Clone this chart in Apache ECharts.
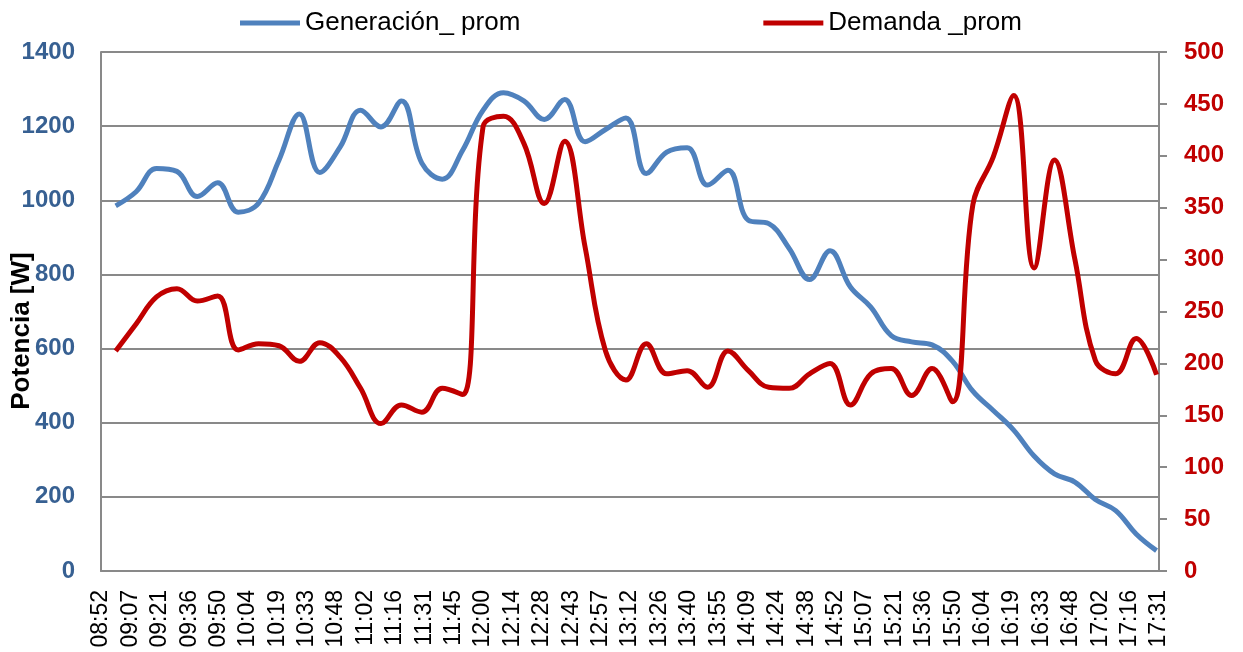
<!DOCTYPE html>
<html>
<head>
<meta charset="utf-8">
<script src="https://cdn.jsdelivr.net/npm/echarts@6/dist/echarts.min.js"></script>
<style>
  html, body { margin: 0; padding: 0; background: #fff; }
  #chart { width: 1243px; height: 652px; }
</style>
</head>
<body>
<div id="chart"></div>
<script>
// horas de medición (cada 10 min)
var horas = ['09:00','09:10','09:20','09:30','09:40','09:50','10:00','10:10','10:20','10:30',
  '10:40','10:50','11:00','11:10','11:20','11:30','11:40','11:50','12:00','12:10',
  '12:20','12:30','12:40','12:50','13:00','13:10','13:20','13:30','13:40','13:50',
  '14:00','14:10','14:20','14:30','14:40','14:50','15:00','15:10','15:20','15:30',
  '15:40','15:50','16:00','16:10','16:20','16:30','16:40','16:50','17:00','17:10',
  '17:20','17:30'];

// Generación_ prom [W] (eje izquierdo)
var generacion = [985, 1023, 1086, 1078, 1010, 1047, 968, 992, 1108, 1233,
  1075, 1144, 1243, 1198, 1268, 1100, 1057, 1135, 1243, 1290,
  1268, 1218, 1272, 1158, 1191, 1222, 1072, 1130, 1142, 1041,
  1081, 946, 937, 870, 786, 864, 766, 712, 635, 618,
  610, 566, 485, 433, 380, 310, 262, 240, 193, 163,
  100, 55];

// Demanda _prom [W] (eje derecho)
var demanda = [212, 238, 264, 272, 260, 265, 213, 219, 217, 202,
  220, 206, 176, 142, 160, 153, 176, 170, 428, 438,
  412, 354, 414, 312, 212, 184, 219, 190, 193, 177,
  212, 193, 177, 176, 190, 200, 160, 190, 195, 169,
  195, 163, 353, 399, 458, 292, 396, 300, 203, 190,
  224, 189];

// eje X en centésimas de día (0.01 día = 14.4 min), como Excel
var UNIDAD_MIN = 14.4;
function aUnidad(h) {
  var p = h.split(':');
  return (parseInt(p[0], 10) * 60 + parseInt(p[1], 10)) / UNIDAD_MIN;
}
function etiquetaHora(v) {
  var total = Math.floor(v * UNIDAD_MIN + 1e-6);
  var h = Math.floor(total / 60), m = total % 60;
  return (h < 10 ? '0' : '') + h + ':' + (m < 10 ? '0' : '') + m;
}

var genData = [], demData = [];
for (var i = 0; i < horas.length; i++) {
  genData.push([aUnidad(horas[i]), generacion[i]]);
  demData.push([aUnidad(horas[i]), demanda[i]]);
}

var fuente = "'Liberation Sans', Arial, sans-serif";
var myChart = echarts.init(document.getElementById('chart'));
var option = {
  backgroundColor: '#fff',
  animation: false,
  color: ['#4F81BD', '#C00000'],
  legend: {
    top: 5,
    left: 235,
    itemGap: 243,
    itemWidth: 60,
    itemHeight: 5,
    icon: 'rect',
    textStyle: { fontFamily: fuente, fontSize: 26, color: '#000' },
    data: ['Generación_ prom', 'Demanda _prom']
  },
  grid: { left: 101, right: 84, top: 52, bottom: 81 },
  graphic: [{
    type: 'text',
    x: 22,
    y: 331,
    rotation: Math.PI / 2,
    style: {
      text: 'Potencia [W]',
      font: "bold 26px 'Liberation Sans', Arial, sans-serif",
      fill: '#000',
      align: 'center',
      verticalAlign: 'middle'
    }
  }],
  xAxis: {
    type: 'value',
    min: 37,
    max: 73,
    interval: 1,
    axisLine: { show: true, lineStyle: { color: '#898989', width: 2 } },
    axisTick: { show: false },
    splitLine: { show: false },
    axisLabel: {
      rotate: 90,
      margin: 19,
      fontFamily: fuente,
      fontSize: 23,
      color: '#000',
      formatter: etiquetaHora
    }
  },
  yAxis: [{
    type: 'value',
    min: 0,
    max: 1400,
    interval: 200,
    axisLine: { show: true, lineStyle: { color: '#898989', width: 2 } },
    axisTick: { show: false },
    splitLine: { show: true, lineStyle: { color: '#898989', width: 2 } },
    axisLabel: {
      margin: 26,
      fontFamily: fuente,
      fontSize: 24,
      fontWeight: 'bold',
      color: '#376092',
      formatter: function (v) { return String(v); }
    }
  }, {
    type: 'value',
    position: 'right',
    min: 0,
    max: 500,
    interval: 50,
    axisLine: { show: true, lineStyle: { color: '#898989', width: 2 } },
    axisTick: { show: true, length: 8, lineStyle: { color: '#898989', width: 2 } },
    splitLine: { show: false },
    axisLabel: {
      margin: 25,
      fontFamily: fuente,
      fontSize: 24,
      fontWeight: 'bold',
      color: '#C00000'
    }
  }],
  series: [{
    name: 'Generación_ prom',
    type: 'line',
    yAxisIndex: 0,
    smooth: 0.4,
    showSymbol: false,
    lineStyle: { width: 5, color: '#4F81BD' },
    data: genData
  }, {
    name: 'Demanda _prom',
    type: 'line',
    yAxisIndex: 1,
    smooth: 0.4,
    showSymbol: false,
    lineStyle: { width: 5, color: '#C00000' },
    data: demData
  }]
};
myChart.setOption(option);
</script>
</body>
</html>
